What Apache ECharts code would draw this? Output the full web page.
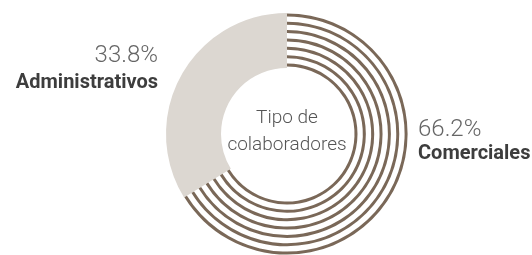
<!DOCTYPE html>
<html>
<head>
<meta charset="utf-8">
<script src="https://cdn.jsdelivr.net/npm/echarts@6/dist/echarts.min.js"></script>
<style>
  html, body { margin: 0; padding: 0; background: #fff; }
  #chart { width: 532px; height: 255px; }
</style>
</head>
<body>
<div id="chart"></div>
<script>
// datos
var categorias = ['Comerciales', 'Administrativos'];
var valores = [66.2, 33.8];
var etiquetas = ['66.2%', '33.8%'];
var titulo = ['Tipo de', 'colaboradores'];

var cafe = '#7a6858';
var gris = '#dcd7d1';
var cx = 287, cy = 134;

var chart = echarts.init(document.getElementById('chart'));

// anillo gris (administrativos)
var series = [{
    type: 'pie',
    center: [cx, cy],
    radius: [66, 121],
    startAngle: 90,
    clockwise: true,
    silent: true,
    label: { show: false },
    labelLine: { show: false },
    emphasis: { disabled: true },
    data: [
        { name: categorias[0], value: valores[0], itemStyle: { color: 'transparent' } },
        { name: categorias[1], value: valores[1], itemStyle: { color: gris } }
    ]
}];

// lineas concentricas (comerciales)
var nLineas = 7;
for (var i = 0; i < nLineas; i++) {
    var r0 = 67.5 + i * 8.35;
    series.push({
        type: 'pie',
        center: [cx, cy],
        radius: [r0, r0 + 3],
        startAngle: 90,
        clockwise: true,
        silent: true,
        label: { show: false },
        labelLine: { show: false },
        emphasis: { disabled: true },
        data: [
            { name: categorias[0], value: valores[0], itemStyle: { color: cafe } },
            { name: categorias[1], value: valores[1], itemStyle: { color: 'transparent' } }
        ]
    });
}

var fuente = 'Roboto';
var option = {
    animation: false,
    backgroundColor: '#fff',
    series: series,
    graphic: [
        { type: 'text', x: cx, y: 118, style: { text: titulo[0], fill: '#555', font: '300 19px ' + fuente, align: 'center', verticalAlign: 'middle' } },
        { type: 'text', x: cx, y: 145, style: { text: titulo[1], fill: '#555', font: '300 19px ' + fuente, align: 'center', verticalAlign: 'middle' } },

        { type: 'text', x: 158, y: 56, style: { text: etiquetas[1], fill: '#666', font: '300 24px ' + fuente, align: 'right', verticalAlign: 'middle' } },
        { type: 'text', x: 158, y: 83, style: { text: categorias[1], fill: '#3d3d3d', font: 'bold 20px ' + fuente, align: 'right', verticalAlign: 'middle' } },

        { type: 'text', x: 418, y: 130, style: { text: etiquetas[0], fill: '#666', font: '300 24px ' + fuente, align: 'left', verticalAlign: 'middle' } },
        { type: 'text', x: 418, y: 154, style: { text: categorias[0], fill: '#3d3d3d', font: 'bold 20px ' + fuente, align: 'left', verticalAlign: 'middle' } }
    ]
};
chart.setOption(option);
</script>
</body>
</html>
